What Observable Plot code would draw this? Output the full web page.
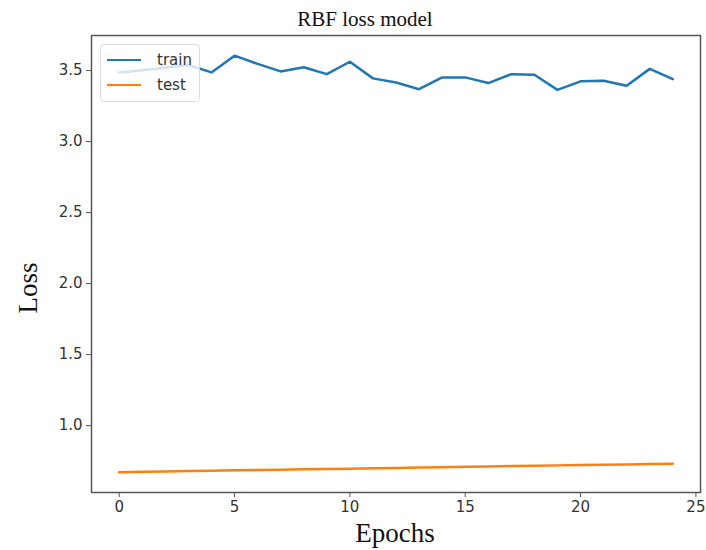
<!DOCTYPE html>
<html>
<head>
<meta charset="utf-8">
<script src="https://cdn.jsdelivr.net/npm/d3@7"></script>
<script src="https://cdn.jsdelivr.net/npm/@observablehq/plot@0.6"></script>
<style>
  html, body { margin: 0; padding: 0; background: #fff; }
  #wrap { position: relative; width: 706px; height: 550px; overflow: hidden; }
  .lbl { position: absolute; font-family: "Liberation Serif", "DejaVu Serif", serif; color: #111; white-space: nowrap; }
  #legend { position: absolute; left: 100px; top: 44px; width: 100px; height: 58px; box-sizing: border-box;
    border: 1px solid #ddd; border-radius: 4px; background: rgba(255,255,255,0.8);
    font-family: "DejaVu Sans", sans-serif; font-size: 15px; color: #333; }
  .item { position: absolute; left: 6px; height: 20px; display: flex; align-items: center; }
  .sw { width: 34px; height: 0; border-top: 2.5px solid; margin-right: 16px; }
</style>
</head>
<body>
<div id="wrap"></div>
<script>
const epochs = d3.range(0, 25);
const trainLoss = [3.487, 3.503, 3.520, 3.539, 3.487, 3.605, 3.547, 3.494, 3.523, 3.475,
                   3.562, 3.445, 3.416, 3.369, 3.452, 3.452, 3.412, 3.475, 3.471, 3.364,
                   3.424, 3.428, 3.393, 3.512, 3.440];
const testLoss = [0.672, 0.675, 0.677, 0.680, 0.682, 0.685, 0.687, 0.690, 0.692, 0.695,
                  0.697, 0.700, 0.702, 0.705, 0.707, 0.710, 0.712, 0.715, 0.717, 0.720,
                  0.722, 0.725, 0.727, 0.730, 0.732];
const xTicks = [0, 5, 10, 15, 20, 25];
const yTicks = [1.0, 1.5, 2.0, 2.5, 3.0, 3.5];
const seriesNames = ["train", "test"];
const seriesColors = ["#1f77b4", "#ff7f0e"];
const titleText = "RBF loss model";
const xLabel = "Epochs";
const yLabel = "Loss";

const train = epochs.map((e, i) => ({epoch: e, loss: trainLoss[i]}));
const test = epochs.map((e, i) => ({epoch: e, loss: testLoss[i]}));

const plot = Plot.plot({
  width: 706,
  height: 550,
  marginLeft: 91,
  marginRight: 6,
  marginTop: 35,
  marginBottom: 58,
  style: {fontFamily: "'DejaVu Sans', sans-serif", fontSize: "15px", color: "#333", background: "#fff", overflow: "visible"},
  x: {domain: [-1.2, 25.2], ticks: xTicks, tickSize: 5, tickPadding: 4, label: null, tickFormat: d3.format("d")},
  y: {domain: [0.529, 3.747], ticks: yTicks, tickSize: 5, tickPadding: 4, label: null, tickFormat: d3.format(".1f")},
  marks: [
    Plot.line(train, {x: "epoch", y: "loss", stroke: seriesColors[0], strokeWidth: 2.5}),
    Plot.line(test, {x: "epoch", y: "loss", stroke: seriesColors[1], strokeWidth: 2.5}),
    Plot.frame({stroke: "#555", strokeWidth: 1.5}),
    Plot.axisX({ticks: xTicks, tickSize: 5, tickPadding: 4, stroke: "#555", fontSize: 15, tickFormat: d3.format("d")}),
    Plot.axisY({ticks: yTicks, tickSize: 5, tickPadding: 4, stroke: "#555", fontSize: 15, tickFormat: d3.format(".1f")})
  ]
});

const wrap = document.getElementById("wrap");
wrap.appendChild(plot);

function label(text, css) {
  const d = document.createElement("div");
  d.className = "lbl";
  d.textContent = text;
  Object.assign(d.style, css);
  wrap.appendChild(d);
}
label(titleText, {left: "365px", top: "7px", fontSize: "21px", transform: "translateX(-50%)"});
label(xLabel, {left: "395px", top: "518px", fontSize: "27px", transform: "translateX(-50%)"});
label(yLabel, {left: "28px", top: "288px", fontSize: "27px", transform: "translate(-50%,-50%) rotate(-90deg)"});

const leg = document.createElement("div");
leg.id = "legend";
seriesNames.forEach((name, i) => {
  const it = document.createElement("div");
  it.className = "item";
  it.style.top = (5 + i * 25) + "px";
  const sw = document.createElement("div");
  sw.className = "sw";
  sw.style.borderTopColor = seriesColors[i];
  const tx = document.createElement("span");
  tx.textContent = name;
  it.appendChild(sw);
  it.appendChild(tx);
  leg.appendChild(it);
});
wrap.appendChild(leg);
</script>
</body>
</html>
